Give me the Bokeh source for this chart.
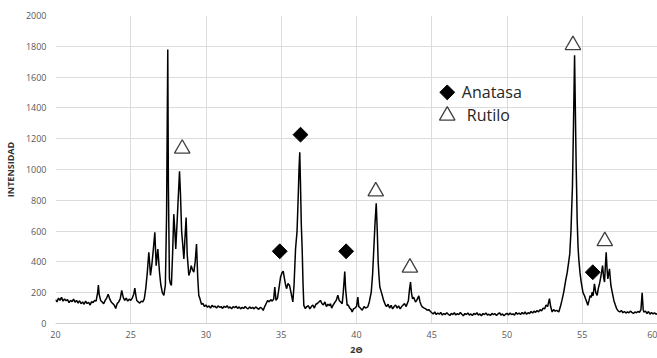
from bokeh.plotting import figure
from bokeh.models import Range1d, FixedTicker, ColumnDataSource
from bokeh.core.properties import value
from bokeh.embed import file_html
from bokeh.resources import INLINE
import math

# ---- data ----
two_theta = [
    20.0, 20.1, 20.2, 20.3, 20.4, 20.5, 20.6, 20.7, 20.8, 20.9,
    21.0, 21.1, 21.2, 21.3, 21.4, 21.5, 21.6, 21.7, 21.8, 21.9,
    22.0, 22.1, 22.2, 22.3, 22.4, 22.5, 22.6, 22.7, 22.8, 22.85, 22.9,
    23.0, 23.1, 23.2, 23.3, 23.4, 23.5, 23.6, 23.7, 23.8, 23.9,
    24.0, 24.1, 24.2, 24.3, 24.4, 24.5, 24.6, 24.7, 24.8, 24.9,
    25.0, 25.1, 25.2, 25.27, 25.35, 25.4, 25.5, 25.6, 25.7, 25.8, 25.9,
    26.0, 26.1, 26.2, 26.25, 26.31, 26.4, 26.5, 26.6, 26.69, 26.8, 26.91,
    27.0, 27.1, 27.2, 27.3, 27.38, 27.46, 27.5, 27.57, 27.63, 27.7, 27.78,
    27.86, 27.93, 27.99, 28.1, 28.24, 28.3, 28.38, 28.46, 28.53, 28.6,
    28.68, 28.75, 28.86, 28.95, 29.02, 29.1, 29.19, 29.28, 29.37, 29.45,
    29.52, 29.6, 29.7, 29.8, 29.9,
    30.0, 30.1, 30.2, 30.3, 30.4, 30.5, 30.6, 30.7, 30.8, 30.9,
    31.0, 31.1, 31.2, 31.3, 31.4, 31.5, 31.6, 31.7, 31.8, 31.9,
    32.0, 32.1, 32.2, 32.3, 32.4, 32.5, 32.6, 32.7, 32.8, 32.9,
    33.0, 33.1, 33.2, 33.3, 33.4, 33.5, 33.6, 33.7, 33.8, 33.9,
    34.0, 34.1, 34.2, 34.3, 34.4, 34.5, 34.57, 34.65, 34.75, 34.85, 34.95,
    35.05, 35.13, 35.2, 35.27, 35.35, 35.45, 35.55, 35.65, 35.77, 35.85, 35.95,
    36.05, 36.12, 36.18, 36.23, 36.28, 36.33, 36.39, 36.45, 36.5, 36.6, 36.7,
    36.8, 36.9, 37.0, 37.1, 37.2, 37.3, 37.4, 37.5, 37.6, 37.7, 37.8, 37.9,
    38.0, 38.1, 38.2, 38.27, 38.35, 38.45, 38.55, 38.65, 38.76, 38.85, 38.95,
    39.05, 39.12, 39.22, 39.28, 39.38, 39.45, 39.55, 39.65, 39.71, 39.8, 39.9,
    40.0, 40.09, 40.15, 40.25, 40.38, 40.5, 40.6, 40.75, 40.85, 40.98,
    41.07, 41.15, 41.23, 41.31, 41.38, 41.44, 41.5, 41.55, 41.63, 41.71, 41.8, 41.93,
    42.0, 42.1, 42.2, 42.3, 42.4, 42.5, 42.6, 42.7, 42.8, 42.9,
    43.0, 43.1, 43.19, 43.3, 43.45, 43.52, 43.59, 43.65, 43.72, 43.8, 43.92,
    44.0, 44.07, 44.14, 44.22, 44.3, 44.37, 44.5, 44.6, 44.7, 44.8, 44.9,
    45.0, 45.1, 45.2, 45.3, 45.4, 45.5, 45.6, 45.7, 45.8, 45.9,
    46.0, 46.1, 46.2, 46.3, 46.4, 46.5, 46.6, 46.7, 46.8, 46.9,
    47.0, 47.1, 47.2, 47.3, 47.4, 47.5, 47.6, 47.7, 47.8, 47.9,
    48.0, 48.1, 48.2, 48.3, 48.4, 48.5, 48.6, 48.7, 48.8, 48.9,
    49.0, 49.1, 49.2, 49.3, 49.4, 49.5, 49.6, 49.7, 49.8, 49.9,
    50.0, 50.1, 50.2, 50.3, 50.4, 50.5, 50.6, 50.7, 50.8, 50.9,
    51.0, 51.1, 51.2, 51.3, 51.4, 51.5, 51.6, 51.7, 51.8, 51.9,
    52.0, 52.1, 52.2, 52.3, 52.4, 52.5, 52.6, 52.7, 52.82, 52.9,
    53.0, 53.1, 53.2, 53.3, 53.44, 53.55, 53.65, 53.77, 53.9,
    54.0, 54.1, 54.17, 54.25, 54.3, 54.35, 54.42, 54.49, 54.54, 54.6, 54.63,
    54.66, 54.72, 54.77, 54.85, 54.93,
    55.05, 55.15, 55.22, 55.3, 55.37, 55.45, 55.52, 55.6, 55.66, 55.72, 55.81, 55.9, 55.99,
    56.07, 56.15, 56.21, 56.28, 56.35, 56.42, 56.48, 56.54, 56.59, 56.65, 56.7, 56.75,
    56.81, 56.9, 56.99,
    57.1, 57.2, 57.28, 57.4, 57.5, 57.6, 57.7, 57.8, 57.9,
    58.0, 58.1, 58.2, 58.3, 58.4, 58.5, 58.6, 58.7, 58.8, 58.9, 58.98,
    59.05, 59.09, 59.2, 59.3, 59.4, 59.5, 59.6, 59.7, 59.8, 59.9, 60.0,
]
intensity = [
    155, 140, 165, 150, 170, 145, 160, 148, 155, 135,
    150, 142, 158, 138, 150, 132, 148, 128, 140, 125,
    145, 130, 138, 120, 142, 135, 150, 145, 200, 250, 190,
    150, 140, 128, 150, 165, 190, 160, 140, 130, 120,
    98, 130, 140, 160, 215, 170, 150, 165, 145, 158,
    150, 165, 190, 230, 175, 150, 140, 132, 145, 140, 160,
    230, 330, 462, 400, 312, 380, 480, 592, 376, 484, 333,
    250, 200, 183, 250, 700, 1779, 900, 290, 260, 247, 450,
    710, 600, 484, 700, 989, 850, 600, 505, 419, 550,
    688, 450, 312, 340, 376, 350, 333, 400, 516, 300,
    183, 160, 125, 130, 110,
    120, 105, 115, 100, 118, 108, 112, 100, 115, 105,
    110, 98, 112, 104, 116, 100, 108, 95, 110, 102,
    112, 98, 108, 95, 105, 98, 110, 100, 95, 108,
    98, 105, 95, 108, 100, 92, 105, 100, 85, 110,
    130, 150, 140, 155, 145, 160, 237, 150, 165, 230, 300,
    330, 340, 300, 260, 226, 260, 247, 200, 140, 250, 484,
    600, 800, 1000, 1112, 900, 650, 484, 250, 118, 97, 110,
    115, 95, 110, 120, 100, 125, 130, 140, 150, 130, 120, 140,
    110, 125, 115, 129, 100, 120, 135, 150, 183, 150, 140,
    129, 200, 337, 220, 118, 120, 100, 90, 75, 95, 100,
    110, 172, 110, 100, 86, 110, 100, 108, 140, 204,
    320, 484, 650, 781, 600, 398, 300, 237, 210, 183, 150, 118,
    110, 125, 100, 118, 95, 110, 120, 100, 115, 95,
    110, 120, 129, 110, 150, 220, 269, 200, 161, 170, 140,
    150, 165, 179, 140, 120, 108, 100, 95, 86, 90, 80,
    70, 62, 75, 58, 68, 60, 72, 55, 65, 58,
    70, 60, 52, 66, 58, 70, 55, 64, 58, 72,
    60, 50, 65, 58, 68, 55, 62, 52, 66, 58,
    70, 55, 62, 50, 65, 58, 68, 55, 60, 52,
    66, 58, 64, 52, 62, 70, 55, 62, 50, 60,
    66, 55, 68, 58, 62, 55, 72, 60, 68, 58,
    72, 62, 75, 60, 70, 65, 78, 68, 80, 72,
    85, 75, 90, 82, 100, 95, 120, 110, 161, 110,
    75, 90, 80, 85, 75, 110, 150, 204, 280,
    330, 400, 452, 600, 750, 892, 1300, 1742, 1400, 1000, 850,
    677, 500, 419, 330, 269,
    200, 180, 161, 140, 118, 150, 180, 170, 204, 180, 258, 200, 183,
    230, 260, 290, 330, 376, 300, 269, 380, 462, 350, 290, 320,
    355, 250, 204,
    150, 120, 97, 80, 75, 85, 70, 78, 68,
    75, 70, 80, 72, 65, 75, 70, 78, 72, 90, 200,
    90, 75, 80, 65, 78, 60, 72, 62, 70, 60, 65,
]

anatasa_x = [34.9, 36.28, 39.31, 55.7]
anatasa_y = [469, 1226, 469, 333]
rutilo_x = [28.42, 41.28, 43.55, 54.38, 56.5]
rutilo_y = [1135, 858, 363, 1808, 535]

legend_labels = ["Anatasa", "Rutilo"]
legend_marker_x = [46.03, 46.03]
legend_marker_y = [1501, 1350]
legend_text_x = [47.0, 47.33]
legend_text_y = [1501, 1356]

x_ticks = [20, 25, 30, 35, 40, 45, 50, 55, 60]
y_ticks = [0, 200, 400, 600, 800, 1000, 1200, 1400, 1600, 1800, 2000]

p = figure(width=657, height=358, output_backend="svg", toolbar_location=None,
           x_range=Range1d(20, 60), y_range=Range1d(0, 2000),
           min_border_left=55, min_border_right=0, min_border_top=15,
           min_border_bottom=32)
p.outline_line_color = None
p.background_fill_color = "white"
p.border_fill_color = "white"

p.xaxis.ticker = FixedTicker(ticks=x_ticks)
p.yaxis.ticker = FixedTicker(ticks=y_ticks)
p.xgrid.ticker = FixedTicker(ticks=x_ticks)
p.ygrid.ticker = FixedTicker(ticks=y_ticks)
p.xgrid.grid_line_color = "#dcdcdc"
p.ygrid.grid_line_color = "#dcdcdc"
p.xgrid.grid_line_width = 1
p.ygrid.grid_line_width = 1

for ax in (p.xaxis, p.yaxis):
    ax.major_tick_line_color = None
    ax.minor_tick_line_color = None
    ax.major_tick_out = 0
    ax.major_tick_in = 0
    ax.major_label_text_font = "Open Sans"
    ax.major_label_text_font_size = "9px"
    ax.major_label_text_color = "#595959"
    ax.axis_label_text_font = "Open Sans"
    ax.axis_label_text_font_size = "9px"
    ax.axis_label_text_font_style = "bold"
    ax.axis_label_text_color = "#333333"

p.xaxis.axis_line_color = "#d0d0d0"
p.yaxis.axis_line_color = None
p.xaxis.major_label_standoff = 7
p.yaxis.major_label_standoff = 9
p.xaxis.axis_label = "2Θ"
p.yaxis.axis_label = "INTENSIDAD"
p.xaxis.axis_label_standoff = 2
p.yaxis.axis_label_standoff = 6

src = ColumnDataSource(dict(x=two_theta, y=intensity))
p.line("x", "y", source=src, line_color="black", line_width=1.5)

p.scatter(anatasa_x, anatasa_y, marker="square", angle=math.pi / 4, size=10.5,
          fill_color="black", line_color="black")
p.scatter(rutilo_x, rutilo_y, marker="triangle", size=15.5,
          fill_color="white", line_color="#404040", line_width=1.3)

# legend
p.scatter([legend_marker_x[0]], [legend_marker_y[0]], marker="square",
          angle=math.pi / 4, size=10.5, fill_color="black", line_color="black")
p.scatter([legend_marker_x[1]], [legend_marker_y[1]], marker="triangle", size=15.5,
          fill_color="white", line_color="#404040", line_width=1.3)
p.text(legend_text_x, legend_text_y, text=legend_labels,
       text_font=value("Open Sans"), text_font_size="16px",
       text_color="#262626", text_baseline="middle", text_align="left")

open("out.html", "w").write(file_html(p, INLINE))
